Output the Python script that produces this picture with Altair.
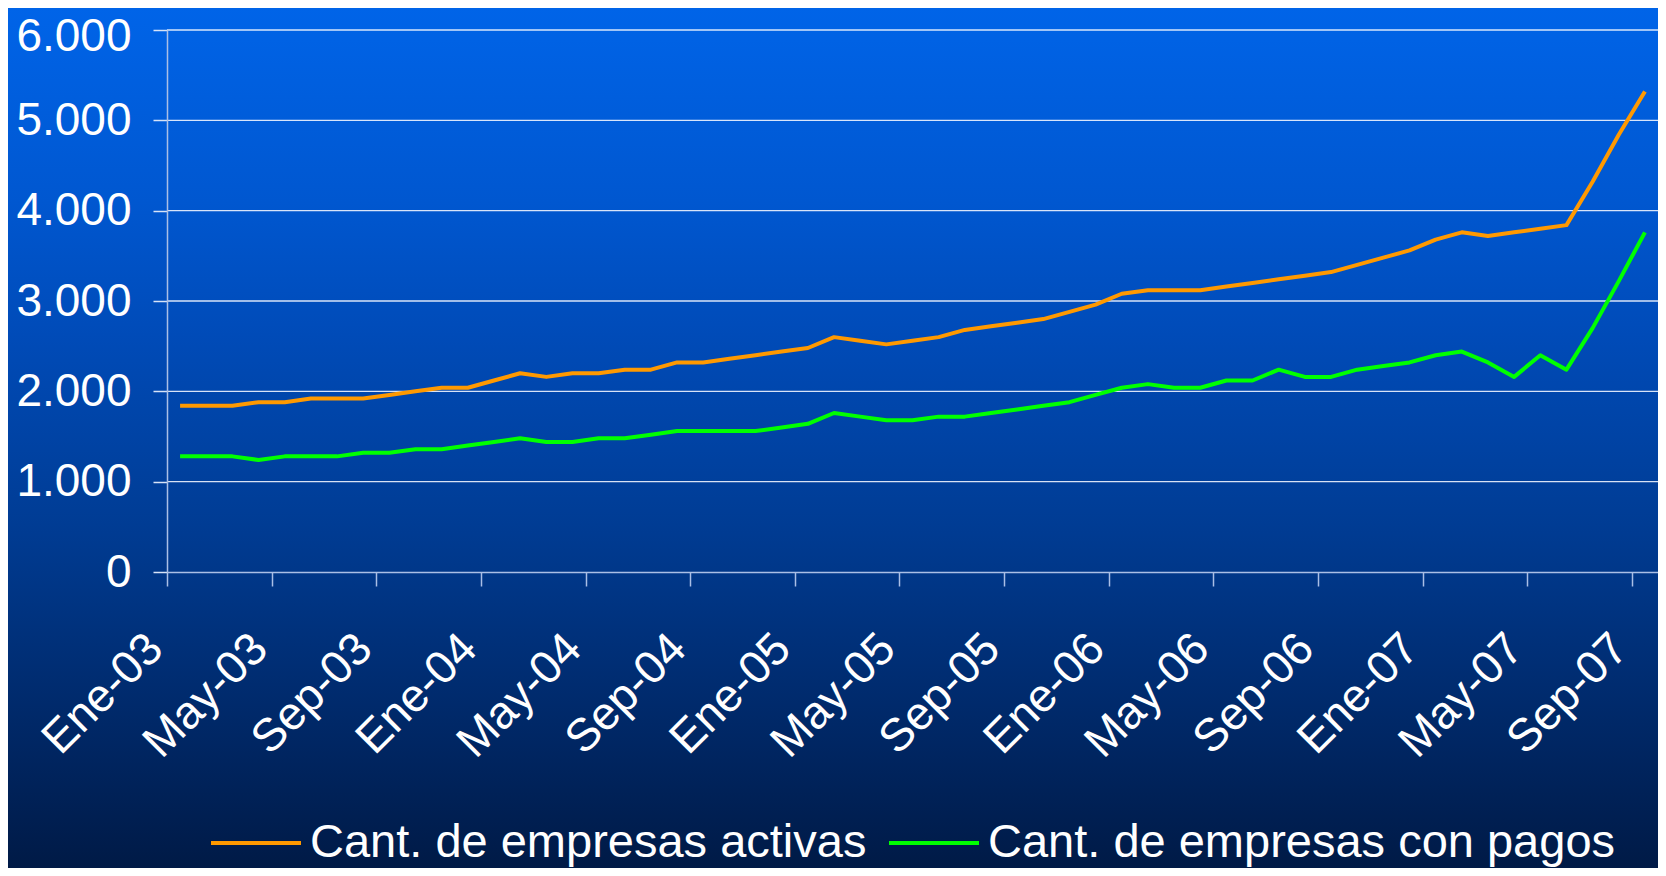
import json
import altair as alt
import pandas as pd

# ---- data -------------------------------------------------------------
meses = ["Ene", "Feb", "Mar", "Abr", "May", "Jun", "Jul", "Ago", "Sep", "Oct", "Nov", "Dic"]
periodos = [f"{m}-{a:02d}" for a in range(3, 8) for m in meses][:57]  # Ene-03 .. Sep-07

activas = [1840, 1840, 1840, 1880, 1880, 1920, 1920, 1920, 1960, 2000, 2040, 2040,
           2120, 2200, 2160, 2200, 2200, 2240, 2240, 2320, 2320, 2360, 2400, 2440,
           2480, 2600, 2560, 2520, 2560, 2600, 2680, 2720, 2760, 2800, 2880, 2960,
           3080, 3120, 3120, 3120, 3160, 3200, 3240, 3280, 3320, 3400, 3480, 3560,
           3680, 3760, 3720, 3760, 3800, 3840, 4320, 4840, 5320]
con_pagos = [1280, 1280, 1280, 1240, 1280, 1280, 1280, 1320, 1320, 1360, 1360, 1400,
             1440, 1480, 1440, 1440, 1480, 1480, 1520, 1560, 1560, 1560, 1560, 1600,
             1640, 1760, 1720, 1680, 1680, 1720, 1720, 1760, 1800, 1840, 1880, 1960,
             2040, 2080, 2040, 2040, 2120, 2120, 2240, 2160, 2160, 2240, 2280, 2320,
             2400, 2440, 2320, 2160, 2400, 2240, 2700, 3220, 3760]

series = ["Cant. de empresas activas", "Cant. de empresas con pagos"]
colores = ["#FF9900", "#00FF00"]
y_ticks = [0, 1000, 2000, 3000, 4000, 5000, 6000]
etiquetas_x = periodos[::4]

rows = []
for i, p in enumerate(periodos):
    rows.append({"idx": i, "periodo": p, "valor": activas[i], "serie": series[0]})
    rows.append({"idx": i, "periodo": p, "valor": con_pagos[i], "serie": series[1]})
df = pd.DataFrame(rows)

# ---- layout -----------------------------------------------------------
W, H = 1491, 542
PAD = {"left": 159, "top": 22, "right": 0, "bottom": 296}
FONT = "Liberation Sans"

x_scale = alt.Scale(domain=[-0.5, len(periodos) - 0.5], nice=False, zero=False)
y_scale = alt.Scale(domain=[0, 6000], nice=False)

x_axis = alt.Axis(
    values=[4 * k - 0.5 for k in range(len(etiquetas_x))],
    labelExpr=json.dumps(etiquetas_x) + "[round((datum.value + 0.5) / 4)]",
    title=None, grid=False, zindex=1,
    labelAngle=315, labelAlign="right", labelBaseline="middle",
    labelPadding=55, labelOffset=-12, labelFontSize=46, labelFont=FONT,
    labelColor="white", labelOverlap=False, labelFlush=False, labelBound=False,
    tickSize=14, tickColor="#AABFE6", tickWidth=1.5,
    domainColor="#AABFE6", domainWidth=1.5,
)
y_axis = alt.Axis(
    values=y_ticks,
    labelExpr="replace(format(datum.value, ','), ',', '.')",
    title=None, grid=False, zindex=1,
    labelPadding=22, labelFontSize=46, labelFont=FONT, labelColor="white",
    labelOffset={"condition": {"test": f"datum.value == {max(y_ticks)}", "value": 6}, "value": 0},
    labelFlush=False, labelBound=False, labelOverlap=False,
    tickSize=14, tickColor="#D8E4F8", tickWidth=1.5,
    domainColor="#AABFE6", domainWidth=1.5,
)

fondo = alt.Chart(pd.DataFrame({"k": [0]})).mark_rect(
    color=alt.Gradient(
        gradient="linear", x1=0, x2=0, y1=0, y2=1,
        stops=[
            alt.GradientStop(offset=0.0, color="#0064E8"),
            alt.GradientStop(offset=0.225, color="#0057D0"),
            alt.GradientStop(offset=0.38, color="#004BB8"),
            alt.GradientStop(offset=0.6, color="#003C94"),
            alt.GradientStop(offset=0.88, color="#00245E"),
            alt.GradientStop(offset=1.0, color="#001A46"),
        ],
    )
).encode(
    x=alt.value(-PAD["left"]), x2=alt.value(W + PAD["right"]),
    y=alt.value(-PAD["top"]), y2=alt.value(H + PAD["bottom"]),
)

grid = alt.Chart(pd.DataFrame({"v": y_ticks[1:]})).mark_rule(
    color="#EEF4FF", strokeWidth=1.3, opacity=0.9
).encode(y=alt.Y("v:Q", scale=y_scale, axis=y_axis))

lineas = alt.Chart(df).mark_line(strokeWidth=4, strokeJoin="round").encode(
    x=alt.X("idx:Q", scale=x_scale, axis=x_axis),
    y=alt.Y("valor:Q", scale=y_scale, axis=y_axis),
    color=alt.Color(
        "serie:N",
        scale=alt.Scale(domain=series, range=colores),
        legend=alt.Legend(
            orient="none", legendX=42, legendY=766, direction="horizontal",
            title=None, symbolType="stroke", symbolSize=8100, symbolStrokeWidth=4,
            labelFontSize=47, labelFont=FONT, labelColor="white", labelLimit=0,
            columnPadding=14, labelOffset=7, padding=0,
        ),
    ),
    detail="serie:N",
)

chart = alt.layer(fondo, grid, lineas).properties(
    width=W, height=H, padding=PAD,
    autosize=alt.AutoSizeParams(type="none"),
).configure_view(stroke=None).configure(background="#001A46")

chart.save("out.html", embed_options={"renderer": "svg", "actions": False})
